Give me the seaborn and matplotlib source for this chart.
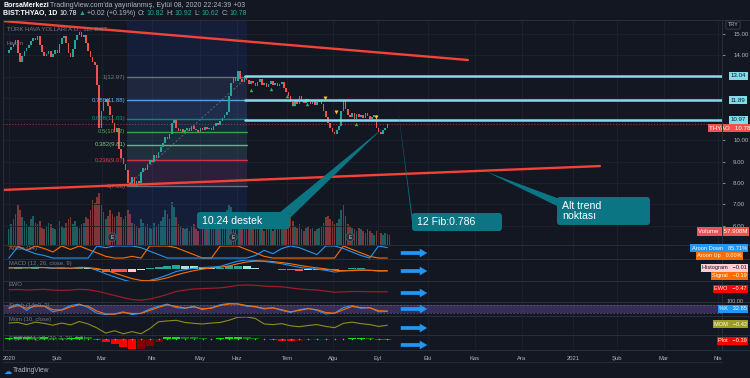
import numpy as np
import matplotlib
matplotlib.use("Agg")
import matplotlib.pyplot as plt
import matplotlib.transforms as mtransforms
from matplotlib import font_manager
from matplotlib.patches import FancyBboxPatch, Polygon
import seaborn as sns

# ---------------- data ----------------
first_open = 14.10
closes = [
    14.25, 14.40, 14.55, 14.70, 14.10, 13.70, 13.95, 14.20, 14.35, 14.50,
    14.65, 14.80, 14.70, 14.90, 14.50, 14.15, 13.95, 14.05, 14.20, 13.90,
    14.05, 14.25, 14.10, 14.55, 14.80, 14.90, 14.60, 14.10, 13.90, 14.30,
    14.70, 14.95, 15.10, 14.85, 14.95, 14.60, 14.20, 13.90, 13.70, 13.55,
    12.60, 10.60, 11.40, 11.80, 11.95, 11.60, 11.20, 10.80, 10.40, 10.60,
    9.60, 9.20, 8.90, 8.60, 8.00, 7.90, 8.30, 7.80, 8.10, 8.00,
    8.50, 8.70, 8.60, 8.90, 9.10, 9.00, 9.30, 9.20, 9.45, 9.70,
    9.90, 10.15, 10.05, 10.30, 10.80, 10.95, 10.60, 10.45, 10.55, 10.40,
    10.50, 10.60, 10.45, 10.70, 10.55, 10.50, 10.40, 10.60, 10.50, 10.65,
    10.55, 10.60, 10.50, 10.70, 10.80, 10.75, 10.90, 11.05, 11.20, 11.35,
    12.10, 12.70, 13.00, 12.80, 13.25, 12.90, 12.75, 13.05, 12.85, 12.65,
    12.80, 12.70, 12.55, 12.75, 12.90, 12.60, 12.70, 12.50, 12.65, 12.80,
    12.60, 12.70, 12.55, 12.65, 12.75, 12.45, 12.30, 12.10, 11.80, 11.60,
    11.90, 11.70, 12.10, 11.85, 11.75, 11.95, 11.80, 11.70, 11.85, 11.65,
    11.80, 11.90, 11.70, 11.40, 11.10, 10.80, 10.60, 10.40, 10.30, 10.50,
    10.70, 11.40, 11.90, 11.50, 11.20, 11.10, 11.30, 11.00, 11.25, 11.10,
    11.20, 11.05, 11.30, 11.15, 11.00, 11.10, 11.20, 10.60, 10.40, 10.30,
    10.50, 10.60, 10.76, 10.78,
]
volumes = [
    90, 120, 150, 180, 230, 200, 160, 140, 120, 110,
    150, 170, 130, 120, 140, 100, 90, 110, 130, 120,
    100, 90, 120, 140, 110, 100, 130, 150, 160, 120,
    140, 110, 100, 120, 130, 160, 150, 200, 260, 240,
    280, 300, 230, 190, 150, 170, 200, 180, 160, 170,
    190, 160, 150, 170, 200, 180, 130, 120, 110, 100,
    150, 130, 110, 120, 100, 90, 130, 110, 120, 140,
    160, 200, 180, 150, 250, 220, 160, 120, 110, 100,
    90, 100, 80, 110, 120, 90, 80, 100, 90, 110,
    100, 120, 110, 130, 150, 140, 160, 170, 180, 200,
    230, 220, 190, 170, 160, 150, 140, 120, 110, 130,
    100, 90, 110, 120, 100, 90, 80, 100, 110, 90,
    80, 90, 100, 110, 90, 120, 130, 150, 160, 140,
    110, 100, 120, 90, 80, 100, 110, 90, 100, 80,
    90, 100, 110, 130, 160, 170, 150, 140, 120, 130,
    150, 200, 230, 170, 120, 110, 100, 90, 80, 100,
    90, 80, 70, 90, 80, 70, 60, 80, 90, 70,
    60, 70, 65, 58,
]

# indicator samples every 4 bars (bar 0 .. 172)
aroon_up = [100, 100, 64, 100, 79, 50, 100, 71, 100, 71, 43, 14, 0, 0, 14, 0,
            100, 100, 100, 86, 57, 29, 0, 0, 100, 100, 100, 71, 43, 14, 0, 0,
            0, 0, 0, 0, 0, 0, 100, 71, 43, 14, 0, 0]
aroon_down = [0, 93, 64, 36, 21, 0, 0, 0, 0, 0, 100, 86, 100, 100, 100, 86,
              57, 29, 0, 0, 0, 0, 0, 0, 0, 0, 0, 0, 21, 64, 36, 79,
              100, 86, 57, 29, 100, 100, 79, 50, 21, 0, 100, 86]
macd_line = [0.05, 0.08, 0.05, 0.10, 0.08, 0.0, 0.05, 0.0, 0.10, 0.08, -0.15, -0.45,
             -0.70, -0.95, -1.15, -1.15, -1.0, -0.80, -0.55, -0.25, -0.10, 0.02,
             0.08, 0.12, 0.18, 0.40, 0.62, 0.72, 0.68, 0.60, 0.50, 0.40, 0.25,
             0.10, 0.0, -0.05, -0.15, -0.30, -0.20, -0.15, -0.12, -0.15, -0.22, -0.20]
macd_signal = [0.05, 0.06, 0.06, 0.07, 0.08, 0.05, 0.04, 0.03, 0.05, 0.07, 0.0, -0.15,
               -0.38, -0.62, -0.85, -1.0, -1.05, -0.95, -0.78, -0.55, -0.35, -0.18,
               -0.05, 0.05, 0.10, 0.22, 0.40, 0.55, 0.62, 0.63, 0.58, 0.50, 0.40,
               0.27, 0.15, 0.06, -0.03, -0.15, -0.19, -0.18, -0.15, -0.15, -0.18, -0.19]
ewo = [0.1, 0.15, 0.0, 0.1, 0.2, 0.0, -0.1, 0.0, 0.2, 0.1, -0.3, -0.9, -1.5, -2.1,
       -2.6, -2.8, -2.5, -1.9, -1.2, -0.4, 0.0, 0.3, 0.4, 0.5, 0.6, 0.9, 1.3, 1.4,
       1.3, 1.1, 1.0, 0.9, 0.6, 0.3, 0.1, 0.0, -0.3, -0.6, -0.5, -0.4, -0.4, -0.45,
       -0.5, -0.47]
stoch_k = [60, 85, 40, 80, 70, 30, 45, 75, 85, 60, 20, 10, 15, 30, 10, 20, 50, 70,
           85, 60, 55, 70, 45, 60, 80, 90, 85, 70, 65, 50, 60, 40, 25, 45, 55, 40,
           15, 20, 60, 75, 55, 60, 30, 33]
stoch_d = [55, 75, 55, 70, 72, 45, 42, 65, 80, 70, 35, 15, 13, 25, 18, 18, 40, 62,
           80, 68, 57, 65, 52, 55, 75, 85, 87, 75, 67, 55, 57, 45, 30, 40, 52, 45,
           25, 20, 45, 68, 60, 58, 38, 35]
mom = [0.3, 0.5, -0.2, 0.6, 0.2, -0.4, 0.3, -0.3, 0.8, 0.0, -1.3, -3.0, -2.2, -3.2,
       -2.5, -3.2, -1.5, 0.7, 1.0, 1.2, 0.5, 0.2, 0.0, 0.3, 0.5, 1.2, 2.2, 2.3, 1.8,
       0.0, -0.2, 0.1, -0.6, -0.9, -0.5, -0.2, -0.8, -1.2, 0.2, 0.6, 0.1, -0.2,
       -0.8, -0.42]
sqz = [0.3, 0.4, 0.5, 0.4, 0.45, 0.3, 0.2, 0.3, 0.5, 0.4, -0.2, -0.8, -1.5, -2.3,
       -2.8, -2.6, -1.8, -0.8, 0.4, 0.6, 0.5, 0.4, 0.2, 0.05, 0.1, 0.4, 0.6, 0.5,
       0.3, 0.05, -0.3, -0.5, -0.6, -0.5, -0.4, -0.3, -0.2, -0.1, 0.05, 0.1, 0.2,
       0.15, -0.2, -0.39]

fib_ratios = ["1", "0.786", "0.618", "0.5", "0.382", "0.236", "0"]
fib_prices = [12.97, 11.88, 11.03, 10.42, 9.81, 9.07, 7.86]
hlines = [13.04, 11.89, 10.97]
last_price = 10.78
month_labels = ["2020", "Şub", "Mar", "Nis", "May", "Haz", "Tem", "Ağu", "Eyl",
                "Eki", "Kas", "Ara", "2021", "Şub", "Mar", "Nis"]
month_pos = [0, 21.8, 42.3, 65, 86.8, 103.6, 126.4, 147.3, 167.7, 190.5, 211.8,
             233.2, 256.4, 276.4, 297.7, 322.3]
price_ticks = [6, 7, 8, 9, 10, 14, 15]
fib_start, fib_end = 53.6, 108.2
upper_trend = ([-2.7, 208.6], [15.61, 13.78])
lower_trend = ([-2.7, 268.6], [7.68, 8.80])
event_bars = [46.8, 101.8, 155]
buy_marks = ([110, 119, 126.4, 129, 135.5, 157.7], [12.37, 12.42, 12.09, 11.71, 11.71, 10.77])
sell_marks = ([143.6, 148.6, 166.8], [12.0, 11.34, 11.1])

# ---------------- style ----------------
BG = '#131722'
GRID = '#1c2030'
TXT = '#b2b5be'
UP = '#26a69a'
DN = '#ef5350'
sns.set_theme(style="dark", rc={"axes.facecolor": BG, "figure.facecolor": BG})


def has_font(name):
    try:
        font_manager.findfont(name, fallback_to_default=False)
        return True
    except Exception:
        return False


MAIN_FONT = 'Liberation Sans' if has_font('Liberation Sans') else 'DejaVu Sans'
NARROW = 'Liberation Sans Narrow' if has_font('Liberation Sans Narrow') else MAIN_FONT
plt.rcParams['font.family'] = [MAIN_FONT, 'DejaVu Sans']

W, H = 750, 378
fig = plt.figure(figsize=(7.5, 3.78), dpi=100, facecolor=BG)
XL = (-2.7, 324.1)


def rect(top, bottom, left=3, right=722):
    return [left / W, 1 - bottom / H, (right - left) / W, (bottom - top) / H]


def style_ax(a):
    a.set_facecolor(BG)
    a.set_xlim(XL)
    for s in a.spines.values():
        s.set_visible(False)
    a.set_xticks([])
    a.set_yticks([])
    a.grid(False)
    for mp in month_pos:
        a.axvline(mp, color=GRID, lw=0.6, zorder=0)


idx = np.arange(len(closes))
closes_a = np.array(closes)
opens_a = np.array([first_open] + closes[:-1])
cols = [UP if c >= o else DN for o, c in zip(opens_a, closes_a)]

# ---------------- main panel ----------------
axv = fig.add_axes(rect(20, 245))
style_ax(axv)
axv.bar(idx, volumes, width=0.75, color=cols, alpha=0.5, linewidth=0)
axv.set_ylim(0, 1300)

ax = fig.add_axes(rect(20, 245))
style_ax(ax)
ax.patch.set_visible(False)
ax.set_ylim(5.094, 15.657)
for p in range(6, 16):
    ax.axhline(p, color=GRID, lw=0.6, zorder=0)

ax.axvspan(fib_start, fib_end, color='#2962ff', alpha=0.10, lw=0, zorder=0.5)

fib_cols = ['#787b86', '#64b5f6', '#089981', '#4caf50', '#81c784', '#f23645', '#787b86']
for k, (r, p) in enumerate(zip(fib_ratios, fib_prices)):
    ax.plot([fib_start, fib_end], [p, p], color=fib_cols[k], lw=1.0, alpha=0.85, zorder=1)
    if k < len(fib_prices) - 1:
        ax.fill_between([fib_start, fib_end], fib_prices[k + 1], p,
                        color=fib_cols[k], alpha=0.10, lw=0, zorder=0.6)
    ax.text(fib_start - 0.6, p, f"{r}({p:.2f})", color=fib_cols[k], fontsize=4.3,
            ha='right', va='center', zorder=3)
ax.plot([fib_start, fib_end], [fib_prices[-1], fib_prices[0]], color='#787b86',
        lw=0.7, ls=(0, (2, 2)), alpha=0.7, zorder=1)

# candles
body = np.maximum(np.abs(closes_a - opens_a), 0.03)
ax.bar(idx, body, bottom=np.minimum(opens_a, closes_a), width=0.7, color=cols,
       linewidth=0, zorder=2)

ax.axhline(last_price, color=DN, lw=0.6, ls=(0, (1.5, 2)), alpha=0.6, zorder=1)
for p in hlines:
    ax.plot([fib_end - 0.8, XL[1]], [p, p], color='#80deea', lw=1.8, zorder=2.5)
ax.plot(*upper_trend, color='#f44336', lw=1.7, zorder=3)
ax.plot(*lower_trend, color='#f44336', lw=1.7, zorder=3)
ax.scatter(*buy_marks, marker='^', s=6, color='#4caf50', zorder=3, linewidths=0)
ax.scatter(*sell_marks, marker='v', s=8, color='#fbc02d', zorder=3, linewidths=0)

tr = mtransforms.blended_transform_factory(ax.transData, ax.transAxes)
for e in event_bars:
    ax.text(e, 0.035, "E", transform=tr, color='#d1d4dc', fontsize=3.6, ha='center',
            va='center', zorder=4,
            bbox=dict(boxstyle='circle,pad=0.35', fc='#2a2e39', ec='#5d606b', lw=0.5))

ax.text(0.005, 0.97, "TÜRK HAVA YOLLARI A.O., 1D, BIST", transform=ax.transAxes,
        color='#787b86', fontsize=4.3, va='top', zorder=4)
ax.text(0.005, 0.905, "Hacim", transform=ax.transAxes, color='#787b86',
        fontsize=4.3, va='top', zorder=4)

ax.yaxis.tick_right()
ax.set_yticks(price_ticks)
ax.set_yticklabels([f"{t:.2f}" for t in price_ticks])
ax.tick_params(axis='y', colors=TXT, labelsize=4.4, length=2, pad=6, width=0.5)
ax.tick_params(axis='y', labelcolor=TXT)

trr = mtransforms.blended_transform_factory(ax.transAxes, ax.transData)
for p in hlines:
    ax.text(1.012, p, f"{p:.2f}", transform=trr, color='#131722', fontsize=4.4,
            va='center', ha='left', zorder=5,
            bbox=dict(boxstyle='square,pad=0.25', fc='#80deea', ec='none'))
# label is nudged below its line so it does not collide with the 10.97 label
ax.text(1.040, last_price - 0.2, f"THYAO   {last_price:.2f}", transform=trr, color='white',
        fontsize=4.4, va='center', ha='right', zorder=5,
        bbox=dict(boxstyle='square,pad=0.25', fc=DN, ec='none'))
ax.text(1.036, 0.06, "Volume   57.908M", transform=ax.transAxes, color='white',
        fontsize=4.4, va='center', ha='right', zorder=5,
        bbox=dict(boxstyle='square,pad=0.25', fc=DN, ec='none'))

# ---------------- indicator panels ----------------
ind_x = np.arange(0, len(closes), 4)
panels = {}
for name, top, bot in [('aroon', 245, 259), ('macd', 259, 281), ('ewo', 281, 302),
                       ('stoch', 302, 316), ('mom', 316, 335), ('sqz', 335, 350)]:
    a = fig.add_axes(rect(top, bot))
    style_ax(a)
    panels[name] = a


def lbl(a, s):
    a.text(0.008, 0.93, s, transform=a.transAxes, color='#787b86', fontsize=4.2,
           va='top', zorder=5)


a = panels['aroon']
sns.lineplot(x=ind_x, y=aroon_up, ax=a, color='#ff6d00', lw=0.8, legend=False)
sns.lineplot(x=ind_x, y=aroon_down, ax=a, color='#2196f3', lw=0.8, legend=False)
a.set_ylim(-8, 108)
lbl(a, "Aroon (14)")

a = panels['macd']
hist = np.array(macd_line) - np.array(macd_signal)
hcols = []
for k, h in enumerate(hist):
    prev = hist[k - 1] if k else h
    if h >= 0:
        hcols.append('#26a69a' if h >= prev else '#b2dfdb')
    else:
        hcols.append('#ffcdd2' if h >= prev else '#ff5252')
a.bar(ind_x, hist, width=3.6, color=hcols, linewidth=0)
sns.lineplot(x=ind_x, y=macd_line, ax=a, color='#2196f3', lw=0.8, legend=False)
sns.lineplot(x=ind_x, y=macd_signal, ax=a, color='#ff6d00', lw=0.8, legend=False)
a.set_ylim(-1.05, 0.8)
lbl(a, "MACD (12, 26, close, 9)")

a = panels['ewo']
sns.lineplot(x=ind_x, y=ewo, ax=a, color='#9c1c2a', lw=0.9, legend=False)
a.set_ylim(-3.3, 2.5)
lbl(a, "EWO")

a = panels['stoch']
a.axhspan(20, 80, color='#7e57c2', alpha=0.35, lw=0)
a.axhline(80, color='#787b86', lw=0.4, ls=(0, (3, 3)))
a.axhline(20, color='#787b86', lw=0.4, ls=(0, (3, 3)))
sns.lineplot(x=ind_x, y=stoch_k, ax=a, color='#2196f3', lw=0.8, legend=False)
sns.lineplot(x=ind_x, y=stoch_d, ax=a, color='#ff6d00', lw=0.8, legend=False)
a.set_ylim(0, 100)
lbl(a, "Stoch (14, 3, 3)")

a = panels['mom']
sns.lineplot(x=ind_x, y=mom, ax=a, color='#8d8d1f', lw=0.8, legend=False)
a.set_ylim(-3.6, 2.6)
lbl(a, "Mom (10, close)")

a = panels['sqz']
scols = []
for k, v in enumerate(sqz):
    prev = sqz[k - 1] if k else v
    if v >= 0:
        scols.append('#00e600' if v >= prev else '#008000')
    else:
        scols.append('#ff0000' if v < prev else '#800000')
a.bar(ind_x, sqz, width=3.6, color=scols, linewidth=0)
a.scatter(ind_x, np.zeros(len(ind_x)), s=1.2, color='#9598a1', zorder=3, linewidths=0)
a.set_ylim(-3.0, 1.0)
lbl(a, "SQZMOM_LB (20, 2, 20, 1.5)")
a.set_xticks(month_pos)
a.set_xticklabels(month_labels)
a.tick_params(axis='x', colors=TXT, labelsize=4.2, length=0, pad=4)

# ---------------- overlay (pixel coordinates) ----------------
ov = fig.add_axes([0, 0, 1, 1])
ov.set_xlim(0, W)
ov.set_ylim(H, 0)
ov.axis('off')
ov.patch.set_alpha(0)

# separators & axes lines
for y in [20, 245, 259, 281, 302, 316, 335, 350]:
    ov.plot([3, 750], [y, y], color='#2a2e39', lw=0.7)
ov.plot([722, 722], [20, 350], color='#2a2e39', lw=0.7)
ov.plot([3, 3], [20, 350], color='#2a2e39', lw=0.7)
ov.plot([3, 722], [362, 362], color='#2a2e39', lw=0.6)

# header: pieces placed one after another using their measured widths
renderer = fig.canvas.get_renderer()


def seq_text(x, y, parts, size):
    for s, c, bold, gap in parts:
        t = ov.text(x, y, s, color=c, fontsize=size, va='center', family=[NARROW, 'DejaVu Sans'],
                    fontweight='bold' if bold else 'normal')
        bb = t.get_window_extent(renderer=renderer)
        x += bb.width + gap


seq_text(3, 5.5, [("BorsaMerkezi", 'white', True, 1.5),
                  ("TradingView.com'da yayınlanmış, Eylül 08, 2020 22:24:39 +03", TXT, False, 0)], 5.0)
seq_text(3, 13.5, [("BIST:THYAO, 1D", 'white', True, 2.5),
                   ("10.78", 'white', False, 1.5),
                   ("▲", UP, False, 1.5),
                   ("+0.02 (+0.19%)", TXT, False, 2.5),
                   ("O:", TXT, False, 0.8), ("10.82", UP, False, 2.5),
                   ("H:", TXT, False, 0.8), ("10.92", UP, False, 2.5),
                   ("L:", TXT, False, 0.8), ("10.62", UP, False, 2.5),
                   ("C:", TXT, False, 0.8), ("10.78", UP, False, 0)], 5.0)

ov.text(733, 25, "TRY", color=TXT, fontsize=4.0, ha='center', va='center',
        bbox=dict(boxstyle='round,pad=0.3,rounding_size=0.3', fc=BG, ec='#434651', lw=0.5))

# callouts
CALL = '#0b7583'


def callout(x0, y0, x1, y1, tri, text):
    ov.add_patch(Polygon(tri, closed=True, fc=CALL, ec='none', zorder=6))
    ov.add_patch(FancyBboxPatch((x0, y0), x1 - x0, y1 - y0,
                                boxstyle='round,pad=0,rounding_size=3',
                                fc=CALL, ec='none', zorder=6))
    ov.text(x0 + 5, (y0 + y1) / 2, text, color='white', fontsize=7.6,
            va='center', ha='left', zorder=7, linespacing=1.0)


callout(197, 212, 290, 229, [(279, 213), (290, 213), (290, 218), (383, 128)], "10.24 destek")
callout(412, 213, 502, 231, [(412, 214), (422, 214), (412, 222), (397, 101)], "12 Fib:0.786")
callout(557, 197, 650, 225, [(557, 198), (575, 198), (557, 206), (487, 172)], "Alt trend\nnoktası")


# right-side indicator labels
def rlabel(y, s, fc, tc='white', x=747):
    ov.text(x, y, s, color=tc, fontsize=4.1, ha='right', va='center', zorder=8,
            bbox=dict(boxstyle='square,pad=0.22', fc=fc, ec='none'))


rlabel(248, "Aroon Down   85.71%", '#2196f3')
rlabel(256, "Aroon Up   0.00%", '#ff6d00', x=742)
rlabel(268, "Histogram   −0.01", '#ffcdd2', tc='#131722')
rlabel(276, "Signal   −0.19", '#ff6d00')
rlabel(289, "EWO   −0.47", '#ff0000')
ov.text(735, 301.5, "100.00", color=TXT, fontsize=3.9, ha='center', va='center')
rlabel(309, "%K   32.85", '#2196f3')
rlabel(324, "MOM   −0.42", '#9e9d24')
rlabel(341, "Plot   −0.39", '#ff0000')

# blue arrows
for y in [253, 271, 293, 309, 328, 345]:
    ov.annotate('', xy=(430, y), xytext=(398, y),
                arrowprops=dict(arrowstyle='simple,head_length=0.6,head_width=0.7,tail_width=0.3',
                                color='#2196f3', lw=0, mutation_scale=9), zorder=8)

# TradingView logo
ov.text(4, 371, "☁", color='#2196f3', fontsize=6, va='center', family=['DejaVu Sans'])
ov.text(13, 371, "TradingView", color=TXT, fontsize=4.8, va='center')

fig.savefig("out.png", dpi=100, facecolor=BG)
